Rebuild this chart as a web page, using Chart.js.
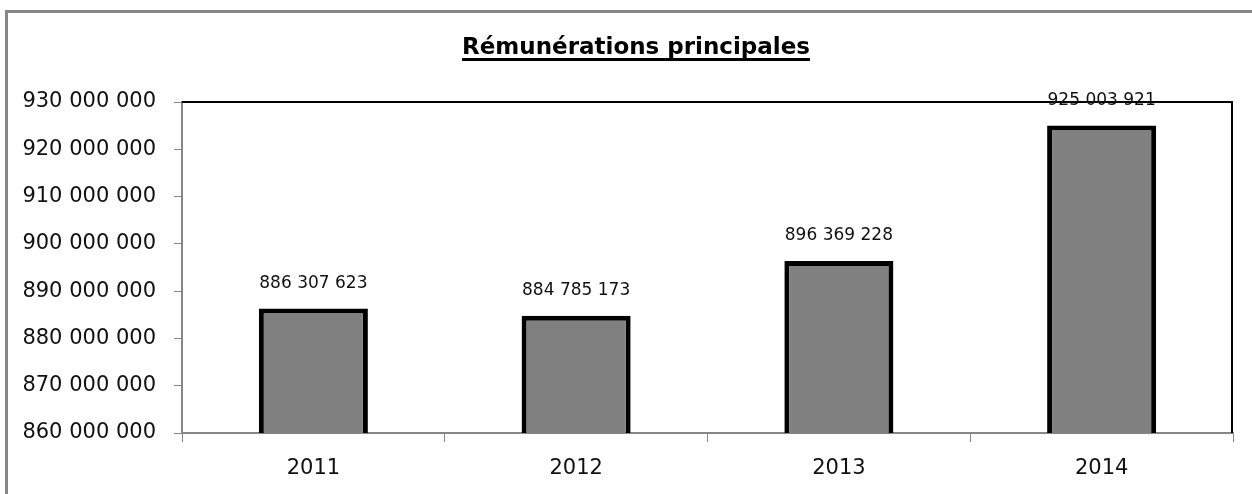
<!DOCTYPE html>
<html>
<head>
<meta charset="utf-8">
<script src="https://cdn.jsdelivr.net/npm/chart.js@4.4.1/dist/chart.umd.min.js"></script>
<style>
  html, body { margin: 0; padding: 0; background: #fff; }
  #wrap { width: 1252px; height: 494px; position: relative; }
</style>
</head>
<body>
<div id="wrap"><canvas id="chart" width="1252" height="494"></canvas></div>
<script>
const titleText = 'Rémunérations principales';
const years = ['2011', '2012', '2013', '2014'];
const amounts = [886307623, 884785173, 896369228, 925003921];
const yMin = 860000000;
const yMax = 930000000;
const yStep = 10000000;

// numbers with a space between thousands, like the french excel format
function fmt(n) {
    return String(Math.round(n)).replace(/\B(?=(\d{3})+(?!\d))/g, ' ');
}

// outer frame, title, plot top/right border and value labels
const decorations = {
    id: 'decorations',
    beforeDraw(chart) {
        const ctx = chart.ctx;
        ctx.save();
        ctx.strokeStyle = '#878787';
        ctx.lineWidth = 3;
        ctx.beginPath();
        ctx.moveTo(6.5, 494);
        ctx.lineTo(6.5, 11.5);
        ctx.lineTo(1252, 11.5);
        ctx.stroke();

        ctx.fillStyle = '#000';
        ctx.font = 'bold 23px "DejaVu Sans"';
        ctx.textAlign = 'center';
        ctx.textBaseline = 'alphabetic';
        const cx = 636;
        ctx.fillText(titleText, cx, 54);
        const w = ctx.measureText(titleText).width;
        ctx.fillRect(cx - w / 2, 58, w, 3);
        ctx.restore();
    },
    afterDatasetsDraw(chart) {
        const ctx = chart.ctx;
        const area = chart.chartArea;
        ctx.save();
        ctx.strokeStyle = '#000';
        ctx.lineWidth = 2;
        ctx.beginPath();
        ctx.moveTo(area.left, area.top);
        ctx.lineTo(area.right - 1, area.top);
        ctx.lineTo(area.right - 1, area.bottom);
        ctx.stroke();

        const meta = chart.getDatasetMeta(0);
        ctx.fillStyle = '#111';
        ctx.font = '17px "DejaVu Sans"';
        ctx.textAlign = 'center';
        ctx.textBaseline = 'middle';
        meta.data.forEach((bar, i) => {
            ctx.fillText(fmt(amounts[i]), bar.x, bar.y - 25);
        });
        ctx.restore();
    }
};

new Chart(document.getElementById('chart'), {
    type: 'bar',
    data: {
        labels: years,
        datasets: [{
            data: amounts,
            backgroundColor: '#808080',
            borderColor: '#000',
            borderWidth: 5,
            borderSkipped: false,
            barPercentage: 0.415,
            categoryPercentage: 1
        }]
    },
    options: {
        responsive: false,
        animation: false,
        devicePixelRatio: 1,
        layout: { padding: { top: 102, right: 19, bottom: 0, left: 0 } },
        plugins: {
            legend: { display: false },
            title: { display: false },
            tooltip: { enabled: false }
        },
        scales: {
            x: {
                afterFit(scale) { scale.height = 61; },
                grid: {
                    offset: true,
                    drawOnChartArea: false,
                    drawTicks: true,
                    tickLength: 9,
                    color: '#878787'
                },
                border: { color: '#878787', width: 2 },
                ticks: {
                    color: '#111',
                    padding: 14,
                    font: { family: 'DejaVu Sans', size: 21 }
                }
            },
            y: {
                min: yMin,
                max: yMax,
                afterFit(scale) { scale.width = 182; },
                grid: {
                    drawOnChartArea: false,
                    drawTicks: true,
                    tickLength: 8,
                    color: '#878787'
                },
                border: { color: '#878787', width: 2 },
                ticks: {
                    stepSize: yStep,
                    color: '#111',
                    padding: 18,
                    font: { family: 'DejaVu Sans', size: 21 },
                    callback: (v) => fmt(v)
                }
            }
        }
    },
    plugins: [decorations]
});
</script>
</body>
</html>
